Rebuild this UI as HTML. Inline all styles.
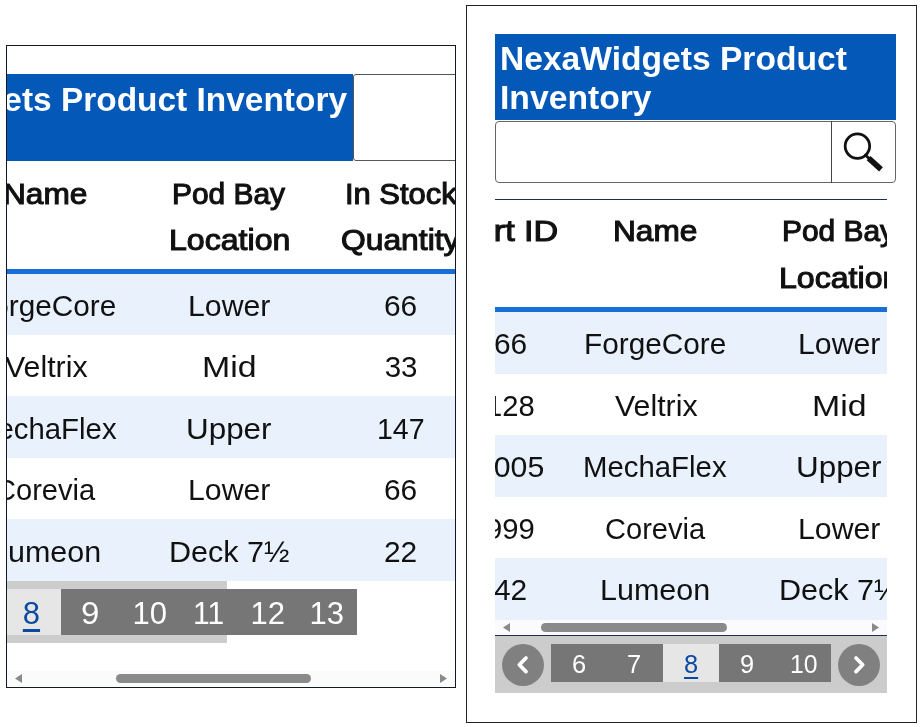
<!DOCTYPE html>
<html lang="en"><head><meta charset="utf-8"><title>NexaWidgets Product Inventory</title>
<style>
html,body{margin:0;padding:0;background:#fff}
body{width:921px;height:727px;position:relative;overflow:hidden;font-family:'Liberation Sans', sans-serif}
.clip{position:absolute;left:0;top:0;width:921px;height:727px}
.r{position:absolute}
.t{position:absolute;white-space:nowrap;line-height:1;transform-origin:0 0;font-family:'Liberation Sans', sans-serif}
</style></head><body>
<!-- left panel -->
<div class="r" style="left:6px;top:45px;width:448px;height:640.5px;border:1px solid #121826;box-sizing:content-box"></div>
<div class="clip" style="clip-path:inset(46px 466px 41px 7px)">
<div class="r" style="left:0;top:74px;width:353px;height:86.5px;background:#0358b8"></div>
<div class="r" style="left:353px;top:74px;width:140px;height:87px;border:1px solid #555;border-radius:3px;box-sizing:border-box;background:#fff"></div>
<div class="r" style="left:0px;top:273.30px;width:470px;height:61.5px;background:#e9f1fd"></div><div class="r" style="left:0px;top:396.30px;width:470px;height:61.5px;background:#e9f1fd"></div><div class="r" style="left:0px;top:519.30px;width:470px;height:61.5px;background:#e9f1fd"></div>
<div class="r" style="left:0;top:269px;width:470px;height:5px;background:#1670d8"></div>
<div class="r" style="left:0;top:581px;width:227px;height:61.5px;background:#cccccc"></div>
<div class="r" style="left:2px;top:589px;width:59px;height:46px;background:#e6e6e6"></div>
<div class="r" style="left:61px;top:589px;width:296px;height:46px;background:#767676"></div>
<div class="r" style="left:0;top:671px;width:470px;height:15px;background:#fbfbfb"></div>
<div class="r" style="left:116px;top:674px;width:194.5px;height:9px;border-radius:4.5px;background:#8a8a8a"></div>
<svg class="r" style="left:14px;top:673px" width="10" height="11" viewBox="0 0 10 11"><path d="M1 5.5 L8 1 L8 10 Z" fill="#8a8a8a"/></svg>
<svg class="r" style="left:438px;top:673px" width="10" height="11" viewBox="0 0 10 11"><path d="M9 5.5 L2 1 L2 10 Z" fill="#8a8a8a"/></svg>
<span class="t" style="left:-157.53px;top:83.47px;font-size:33px;font-weight:700;color:#fff;transform:scaleX(1.0131)">NexaWidgets Product Inventory</span><span class="t" style="left:3.01px;top:178.53px;font-size:29.5px;font-weight:400;color:#111;-webkit-text-stroke:1.1px #111;transform:scaleX(1.0724)">Name</span><span class="t" style="left:172.22px;top:178.53px;font-size:29.5px;font-weight:400;color:#111;-webkit-text-stroke:1.1px #111;transform:scaleX(1.0136)">Pod Bay</span><span class="t" style="left:169.07px;top:225.03px;font-size:29.5px;font-weight:400;color:#111;-webkit-text-stroke:1.1px #111;transform:scaleX(1.0880)">Location</span><span class="t" style="left:344.90px;top:178.53px;font-size:29.5px;font-weight:400;color:#111;-webkit-text-stroke:1.1px #111;transform:scaleX(1.0476)">In Stock</span><span class="t" style="left:341.37px;top:225.03px;font-size:29.5px;font-weight:400;color:#111;-webkit-text-stroke:1.1px #111;transform:scaleX(1.0780)">Quantity</span><span class="t" style="left:-25.72px;top:290.53px;font-size:29.5px;font-weight:400;color:#111;transform:scaleX(1.0087)">ForgeCore</span><span class="t" style="left:187.95px;top:290.53px;font-size:29.5px;font-weight:400;color:#111;transform:scaleX(1.0256)">Lower</span><span class="t" style="left:384.49px;top:290.53px;font-size:29.5px;font-weight:400;color:#111;transform:scaleX(1.0129)">66</span><span class="t" style="left:4.75px;top:352.03px;font-size:29.5px;font-weight:400;color:#111;transform:scaleX(1.0288)">Veltrix</span><span class="t" style="left:202.45px;top:352.03px;font-size:29.5px;font-weight:400;color:#111;transform:scaleX(1.1477)">Mid</span><span class="t" style="left:384.70px;top:352.03px;font-size:29.5px;font-weight:400;color:#111;transform:scaleX(1.0000)">33</span><span class="t" style="left:-26.74px;top:413.53px;font-size:29.5px;font-weight:400;color:#111;transform:scaleX(0.9951)">MechaFlex</span><span class="t" style="left:186.37px;top:413.53px;font-size:29.5px;font-weight:400;color:#111;transform:scaleX(1.0641)">Upper</span><span class="t" style="left:377.02px;top:413.53px;font-size:29.5px;font-weight:400;color:#111;transform:scaleX(0.9674)">147</span><span class="t" style="left:-4.84px;top:475.03px;font-size:29.5px;font-weight:400;color:#111;transform:scaleX(0.9851)">Corevia</span><span class="t" style="left:187.95px;top:475.03px;font-size:29.5px;font-weight:400;color:#111;transform:scaleX(1.0256)">Lower</span><span class="t" style="left:384.49px;top:475.03px;font-size:29.5px;font-weight:400;color:#111;transform:scaleX(1.0129)">66</span><span class="t" style="left:-9.37px;top:536.53px;font-size:29.5px;font-weight:400;color:#111;transform:scaleX(1.0330)">Lumeon</span><span class="t" style="left:168.93px;top:536.53px;font-size:29.5px;font-weight:400;color:#111;transform:scaleX(1.0351)">Deck 7½</span><span class="t" style="left:384.49px;top:536.53px;font-size:29.5px;font-weight:400;color:#111;transform:scaleX(1.0129)">22</span><span class="t" style="left:22.80px;top:597.76px;font-size:31px;font-weight:400;color:#0b4aa0;text-decoration:underline;text-underline-offset:5.3px;text-decoration-thickness:2.6px;transform:scaleX(1.0000)">8</span><span class="t" style="left:80.93px;top:597.76px;font-size:31px;font-weight:400;color:#fff;transform:scaleX(1.0667)">9</span><span class="t" style="left:132.50px;top:597.76px;font-size:31px;font-weight:400;color:#fff;transform:scaleX(1.0000)">10</span><span class="t" style="left:192.57px;top:597.76px;font-size:31px;font-weight:400;color:#fff;transform:scaleX(0.9655)">11</span><span class="t" style="left:250.50px;top:597.76px;font-size:31px;font-weight:400;color:#fff;transform:scaleX(1.0000)">12</span><span class="t" style="left:309.50px;top:597.76px;font-size:31px;font-weight:400;color:#fff;transform:scaleX(1.0000)">13</span>
</div>
<!-- right panel -->
<div class="r" style="left:466px;top:5px;width:448.5px;height:716px;border:1.5px solid #222"></div>
<div class="r" style="left:495px;top:34px;width:401px;height:85.5px;background:#0358b8"></div>
<div class="r" style="left:495px;top:121px;width:401px;height:61.5px;border:1px solid #666;border-radius:4px;box-sizing:border-box;background:#fff"></div>
<div class="r" style="left:831px;top:121px;width:1px;height:61.5px;background:#444"></div>
<svg class="r" style="left:836px;top:126px" width="52" height="52" viewBox="836 126 52 52"><circle cx="857.4" cy="146.1" r="12.25" fill="none" stroke="#111" stroke-width="2.8"/><path d="M865.5 155 L870 159.5" stroke="#111" stroke-width="2.8" stroke-linecap="round"/><path d="M868.6 158.2 L881 169.4" stroke="#111" stroke-width="5.6" stroke-linecap="butt"/></svg>
<div class="r" style="left:495px;top:199px;width:392px;height:1px;background:#1c2e50"></div>
<div class="clip" style="clip-path:inset(200px 34px 91.5px 495px)">
<div class="r" style="left:495px;top:312.20px;width:392px;height:61.5px;background:#e9f1fd"></div><div class="r" style="left:495px;top:435.20px;width:392px;height:61.5px;background:#e9f1fd"></div><div class="r" style="left:495px;top:558.20px;width:392px;height:61.5px;background:#e9f1fd"></div>
<div class="r" style="left:495px;top:307px;width:392px;height:5.1px;background:#1670d8"></div>
<div class="r" style="left:495px;top:619.8px;width:392px;height:15.2px;background:#fbfbfb"></div>
<div class="r" style="left:541px;top:623px;width:186px;height:9px;border-radius:4.5px;background:#8a8a8a"></div>
<svg class="r" style="left:502px;top:622px" width="10" height="11" viewBox="0 0 10 11"><path d="M1 5.5 L8 1 L8 10 Z" fill="#8a8a8a"/></svg>
<svg class="r" style="left:870px;top:622px" width="10" height="11" viewBox="0 0 10 11"><path d="M9 5.5 L2 1 L2 10 Z" fill="#8a8a8a"/></svg>
<span class="t" style="left:452.39px;top:216.33px;font-size:29.5px;font-weight:400;color:#111;-webkit-text-stroke:1.1px #111;transform:scaleX(1.1573)">Part ID</span><span class="t" style="left:612.81px;top:216.33px;font-size:29.5px;font-weight:400;color:#111;-webkit-text-stroke:1.1px #111;transform:scaleX(1.0724)">Name</span><span class="t" style="left:782.22px;top:216.33px;font-size:29.5px;font-weight:400;color:#111;-webkit-text-stroke:1.1px #111;transform:scaleX(1.0136)">Pod Bay</span><span class="t" style="left:779.07px;top:263.03px;font-size:29.5px;font-weight:400;color:#111;-webkit-text-stroke:1.1px #111;transform:scaleX(1.0880)">Location</span><span class="t" style="left:493.59px;top:329.43px;font-size:29.5px;font-weight:400;color:#111;transform:scaleX(1.0129)">66</span><span class="t" style="left:584.08px;top:329.43px;font-size:29.5px;font-weight:400;color:#111;transform:scaleX(1.0087)">ForgeCore</span><span class="t" style="left:797.95px;top:329.43px;font-size:29.5px;font-weight:400;color:#111;transform:scaleX(1.0256)">Lower</span><span class="t" style="left:485.57px;top:390.93px;font-size:29.5px;font-weight:400;color:#111;transform:scaleX(0.9891)">128</span><span class="t" style="left:614.55px;top:390.93px;font-size:29.5px;font-weight:400;color:#111;transform:scaleX(1.0287)">Veltrix</span><span class="t" style="left:812.45px;top:390.93px;font-size:29.5px;font-weight:400;color:#111;transform:scaleX(1.1477)">Mid</span><span class="t" style="left:476.50px;top:452.43px;font-size:29.5px;font-weight:400;color:#111;transform:scaleX(1.0242)">1005</span><span class="t" style="left:583.06px;top:452.43px;font-size:29.5px;font-weight:400;color:#111;transform:scaleX(0.9951)">MechaFlex</span><span class="t" style="left:796.37px;top:452.43px;font-size:29.5px;font-weight:400;color:#111;transform:scaleX(1.0641)">Upper</span><span class="t" style="left:486.06px;top:513.93px;font-size:29.5px;font-weight:400;color:#111;transform:scaleX(0.9894)">999</span><span class="t" style="left:604.96px;top:513.93px;font-size:29.5px;font-weight:400;color:#111;transform:scaleX(0.9851)">Corevia</span><span class="t" style="left:797.95px;top:513.93px;font-size:29.5px;font-weight:400;color:#111;transform:scaleX(1.0256)">Lower</span><span class="t" style="left:493.59px;top:575.43px;font-size:29.5px;font-weight:400;color:#111;transform:scaleX(1.0129)">42</span><span class="t" style="left:600.43px;top:575.43px;font-size:29.5px;font-weight:400;color:#111;transform:scaleX(1.0330)">Lumeon</span><span class="t" style="left:778.93px;top:575.43px;font-size:29.5px;font-weight:400;color:#111;transform:scaleX(1.0351)">Deck 7½</span>
</div>
<div class="r" style="left:495px;top:634.9px;width:392px;height:1.1px;background:#1c2e50"></div>
<div class="r" style="left:495px;top:635.8px;width:392px;height:57.5px;background:#cccccc"></div>
<div class="r" style="left:551px;top:644px;width:112px;height:37.5px;background:#767676"></div>
<div class="r" style="left:663px;top:644px;width:56px;height:37.5px;background:#e6e6e6"></div>
<div class="r" style="left:719px;top:644px;width:112px;height:37.5px;background:#767676"></div>
<div class="r" style="left:502px;top:643.7px;width:42px;height:42px;border-radius:50%;background:#808080"></div>
<div class="r" style="left:838px;top:643.7px;width:42px;height:42px;border-radius:50%;background:#808080"></div>
<svg class="r" style="left:502px;top:643.7px" width="42" height="42" viewBox="0 0 42 42"><path d="M24 14 L17.3 20.8 L24 27.6" fill="none" stroke="#fff" stroke-width="3.7" stroke-linecap="round" stroke-linejoin="round"/></svg>
<svg class="r" style="left:838px;top:643.7px" width="42" height="42" viewBox="0 0 42 42"><path d="M18 14 L24.7 20.8 L18 27.6" fill="none" stroke="#fff" stroke-width="3.7" stroke-linecap="round" stroke-linejoin="round"/></svg>
<span class="t" style="left:499.96px;top:42.47px;font-size:33px;font-weight:700;color:#fff;transform:scaleX(1.0178)">NexaWidgets Product</span><span class="t" style="left:499.96px;top:81.27px;font-size:33px;font-weight:700;color:#fff;transform:scaleX(1.0205)">Inventory</span><span class="t" style="left:571.58px;top:651.84px;font-size:25px;font-weight:400;color:#fff;transform:scaleX(1.0167)">6</span><span class="t" style="left:627.48px;top:651.84px;font-size:25px;font-weight:400;color:#fff;transform:scaleX(1.0167)">7</span><span class="t" style="left:684.18px;top:651.84px;font-size:25px;font-weight:400;color:#0b4aa0;text-decoration:underline;text-underline-offset:4.2px;text-decoration-thickness:2.1px;transform:scaleX(1.0167)">8</span><span class="t" style="left:739.88px;top:651.84px;font-size:25px;font-weight:400;color:#fff;transform:scaleX(1.0167)">9</span><span class="t" style="left:789.62px;top:651.84px;font-size:25px;font-weight:400;color:#fff;transform:scaleX(0.9920)">10</span>
</body></html>
